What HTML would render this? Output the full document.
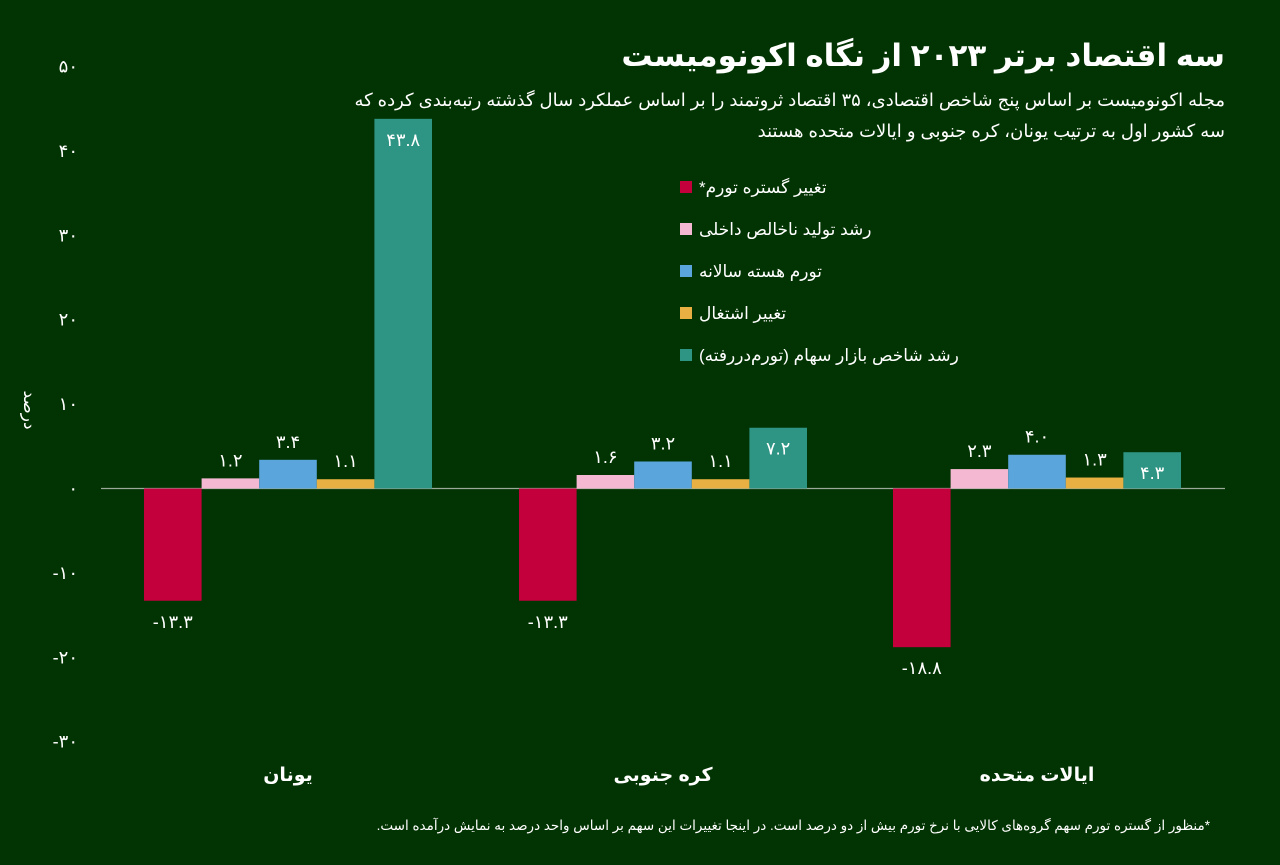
<!DOCTYPE html>
<html lang="fa"><head><meta charset="utf-8">
<style>
html,body{margin:0;padding:0;background:#023302;}
body{width:1280px;height:860px;overflow:hidden;font-family:"Liberation Sans","DejaVu Sans","Noto Sans CJK SC",sans-serif;color:#fff;}
svg text{font-family:"Liberation Sans","DejaVu Sans",sans-serif;fill:#fff;}
</style></head><body>
<svg id="chart" width="1280" height="860" viewBox="0 0 1280 860" xmlns="http://www.w3.org/2000/svg">
<rect width="1280" height="860" fill="#023302"/>
<text x="1225" y="66" text-anchor="end" font-size="31" font-weight="bold">&#x202B;سه اقتصاد برتر ۲۰۲۳ از نگاه اکونومیست&#x202C;</text>
<text x="1225" y="106" text-anchor="end" font-size="18">&#x202B;مجله اکونومیست بر اساس پنج شاخص اقتصادی، ۳۵ اقتصاد ثروتمند را بر اساس عملکرد سال گذشته رتبه‌بندی کرده که&#x202C;</text>
<text x="1225" y="137" text-anchor="end" font-size="18">&#x202B;سه کشور اول به ترتیب یونان، کره جنوبی و ایالات متحده هستند&#x202C;</text>
<text transform="translate(24,410) rotate(90)" text-anchor="middle" font-size="17">درصد</text>
<text x="1210" y="830" text-anchor="end" font-size="13.5">&#x202B;*منظور از گستره تورم سهم گروه‌های کالایی با نرخ تورم بیش از دو درصد است. در اینجا تغییرات این سهم بر اساس واحد درصد به نمایش درآمده است.&#x202C;</text>
<g id="plot"></g>
</svg>
<script>
const categories=["یونان","کره جنوبی","ایالات متحده"];
const seriesNames=["تغییر گستره تورم*","رشد تولید ناخالص داخلی","تورم هسته سالانه","تغییر اشتغال","رشد شاخص بازار سهام (تورم‌دررفته)"];
const seriesColors=["#c4003c","#f4b8d2","#5aa5dc","#e8b042","#2e9484"];
const inflationSpread=[-13.3,-13.3,-18.8];
const gdpGrowth=[1.2,1.6,2.3];
const coreInflation=[3.4,3.2,4.0];
const employment=[1.1,1.1,1.3];
const stockMarket=[43.8,7.2,4.3];
const series=[inflationSpread,gdpGrowth,coreInflation,employment,stockMarket];
const yTicks=[50,40,30,20,10,0,-10,-20,-30];

const NS="http://www.w3.org/2000/svg";
const g=document.getElementById('plot');
const y0=488.5, pxPer=8.44;
function y(v){return y0-v*pxPer;}
const groupStart=[144,519,893], barW=57.6;
function x(ci,si){return groupStart[ci]+si*barW;}
function fa(n){const s=(Math.round(n*10)/10).toFixed(1).replace(/^-/,'');const d='۰۱۲۳۴۵۶۷۸۹';return (n<0?'-':'')+s.replace(/\d/g,c=>d[c]);}
function faInt(n){const d='۰۱۲۳۴۵۶۷۸۹';return (n<0?'-':'')+String(Math.abs(n)).replace(/\d/g,c=>d[c]);}
function mk(tag,attrs){const e=document.createElementNS(NS,tag);for(const k in attrs)e.setAttribute(k,attrs[k]);return e;}

yTicks.forEach(t=>{
  const e=mk('text',{x:78,y:y(t)+6,'text-anchor':'end','font-size':'18'});
  
  
  e.textContent=faInt(t);g.appendChild(e);
});
const base=mk('line',{x1:101,x2:1225,y1:y(0),y2:y(0),stroke:'#9aaa9a','stroke-width':'1.2'});


g.appendChild(base);

categories.forEach((c,ci)=>{
  series.forEach((arr,si)=>{
    const v=arr[ci];const top=Math.min(y(v),y(0));const h=Math.abs(y(v)-y(0));
    const r=mk('rect',{x:x(ci,si),y:top,width:barW,height:h,fill:seriesColors[si]});
    
    
    g.appendChild(r);
    const cx=x(ci,si)+barW/2;let ly;
    if(v<0) ly=y(v)+27; else if(si===4) ly=y(v)+27; else ly=y(v)-12;
    const t=mk('text',{x:cx,y:ly,'text-anchor':'middle','font-size':'18'});
    
    
    t.textContent=fa(v);g.appendChild(t);
  });
  const cl=mk('text',{x:groupStart[ci]+barW*2.5,y:781,'text-anchor':'middle','font-size':'19','font-weight':'bold'});
  
  
  cl.textContent=c;g.appendChild(cl);
});

seriesNames.forEach((n,i)=>{
  const ly=186+i*42;
  const sw=mk('rect',{x:680,y:ly-5,width:12,height:12,fill:seriesColors[i]});
  
  
  g.appendChild(sw);
  const t=mk('text',{x:699,y:ly+7,'font-size':'17'});
  
  
  t.textContent='\u202B'+n+'\u202C';g.appendChild(t);
});
</script>
</body></html>
